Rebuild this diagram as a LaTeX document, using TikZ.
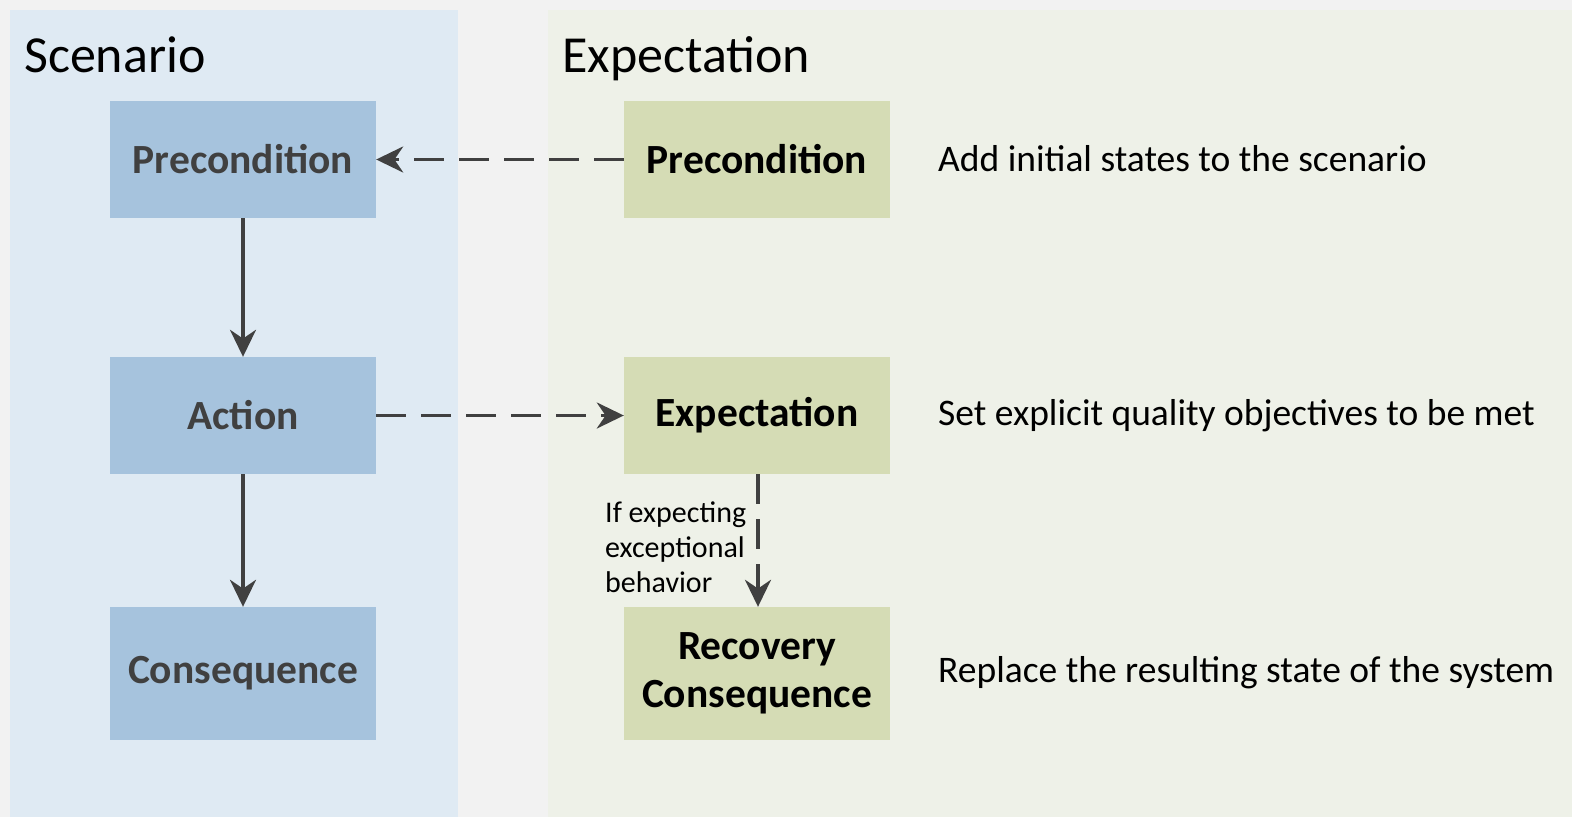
\documentclass[tikz,border=0pt]{standalone}
\usepackage{fontspec}
\setmainfont{Carlito}
\usetikzlibrary{arrows.meta}

\definecolor{bgc}{HTML}{F2F2F2}
\definecolor{panelblue}{HTML}{DFEAF3}
\definecolor{panelgreen}{HTML}{EEF1E8}
\definecolor{boxblue}{HTML}{A6C3DD}
\definecolor{boxgreen}{HTML}{D5DCB5}
\definecolor{linec}{HTML}{404040}

\begin{document}
\begin{tikzpicture}[x=1pt,y=-1pt,
  stepbox/.style={minimum width=266pt, inner sep=0pt, align=center,
    font=\fontsize{41.5}{48}\selectfont\bfseries},
  bluebox/.style={stepbox, fill=boxblue, text=linec},
  greenbox/.style={stepbox, fill=boxgreen, text=black},
  paneltitle/.style={anchor=base west, inner sep=0pt, font=\fontsize{52}{60}\selectfont},
  note/.style={anchor=west, inner sep=0pt, font=\fontsize{37.5}{44}\selectfont},
  flow/.style={draw=linec, line width=3.5pt, -{Stealth[length=27pt,width=26pt]}},
  dflow/.style={flow, dash pattern=on 30pt off 15pt}
]
% canvas and the two panels
\fill[bgc] (0,0) rectangle (1572,817);
\useasboundingbox (0,0) rectangle (1572,817);
\fill[panelblue] (10,10) rectangle (458,817);
\fill[panelgreen] (548,10) rectangle (1572,817);

\node[paneltitle] (tscen) at (24,72) {Scenario};
\node[paneltitle] (texp) at (562,72) {Expectation};

% scenario column
\node[bluebox, minimum height=117pt] (bpre) at (243,159.5) {Precondition};
\node[bluebox, minimum height=117pt] (bact) at (243,415.5) {Action};
\node[bluebox, minimum height=133pt] (bcon) at (243,673.5) {Consequence};

% expectation column
\node[greenbox, minimum height=117pt] (gpre) at (757,159.5) {Precondition};
\node[greenbox, minimum height=117pt] (gexp) at (757,415.5) {Expectation};
\node[greenbox, minimum height=133pt] (grec) at (757,673.5) {Recovery\\Consequence};

% descriptions
\node[note] (npre) at (938,159) {Add initial states to the scenario};
\node[note] (nexp) at (938,416) {Set explicit quality objectives to be met};
\node[note] (nrec) at (938,673) {Replace the resulting state of the system};

\node[anchor=north west, inner sep=0pt, align=left,
  font=\fontsize{30}{35}\selectfont] (lexc) at (605,502)
  {If expecting\\exceptional\\behavior};

% connectors
\draw[flow] (bpre.south) -- (bact.north);
\draw[flow] (bact.south) -- (bcon.north);
\draw[dflow] (gpre.west) -- (bpre.east);
\draw[dflow] (bact.east) -- (gexp.west);
\draw[dflow] ([xshift=1pt]gexp.south) -- ([xshift=1pt]grec.north);
\end{tikzpicture}
\end{document}
